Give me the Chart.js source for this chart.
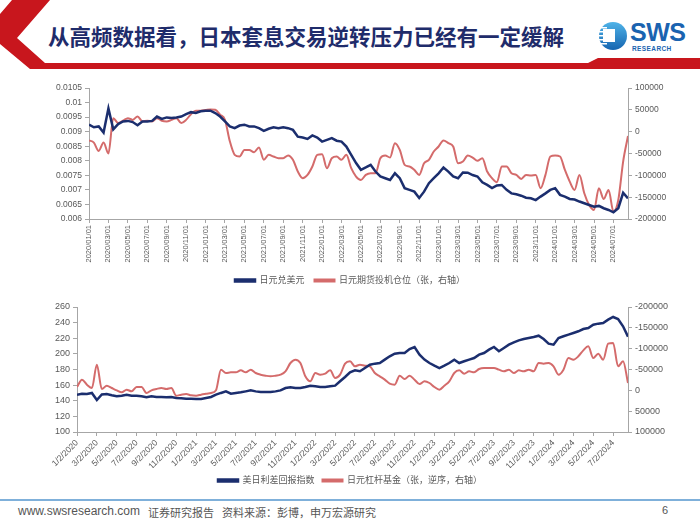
<!DOCTYPE html>
<html>
<head>
<meta charset="utf-8">
<script src="https://cdn.jsdelivr.net/npm/chart.js@4.4.1/dist/chart.umd.min.js"></script>
<style>
  body { margin: 0; width: 700px; height: 525px; background: #fff; position: relative; overflow: hidden; font-family: "Noto Sans CJK SC", sans-serif; }
  #head { position: absolute; left: 0; top: 0; }
  #title { position: absolute; left: 48px; top: 22px; font-size: 21.5px; font-weight: bold; color: #1f2c6b; letter-spacing: 0px; white-space: nowrap; line-height: 28px; }
  .logo-sws { position: absolute; left: 630px; top: 18px; font-family: "Liberation Sans", Arial, sans-serif; font-weight: bold; font-size: 25px; color: #1a63b0; letter-spacing: -0.5px; }
  .logo-res { position: absolute; left: 632px; top: 45px; font-family: "Liberation Sans", Arial, sans-serif; font-weight: bold; font-size: 6.5px; color: #1a63b0; letter-spacing: 0.4px; }
  #c1 { position: absolute; left: 0; top: 75px; }
  #c2 { position: absolute; left: 0; top: 295px; }
  #foot-line { position: absolute; left: 0; top: 499px; width: 700px; height: 2px; background: #7fb0da; }
  .foot { position: absolute; top: 504px; font-size: 11px; color: #555; font-family: "Liberation Sans", "Noto Sans CJK SC", sans-serif; white-space: nowrap; }
</style>
</head>
<body>
<svg id="head" width="700" height="72">
  <polygon points="12,0 50,0 17,38 45,63 700,63 700,69 30,69 0,44 0,14" fill="#c8161d"/>
  <polygon points="588,63 598,58 700,58 700,64" fill="#c8161d"/>
  <defs>
    <linearGradient id="lg" x1="0" y1="0" x2="0" y2="1">
      <stop offset="0" stop-color="#4fb3e8"/>
      <stop offset="1" stop-color="#1565b0"/>
    </linearGradient>
  </defs>
  <circle cx="613" cy="36" r="14" fill="url(#lg)"/>
  <rect x="603" y="29" width="12" height="13" fill="#fff"/>
  <rect x="599" y="27" width="8" height="1.5" fill="#fff"/>
  <rect x="599" y="31" width="8" height="1.5" fill="#fff"/>
  <rect x="599" y="35" width="8" height="1.5" fill="#fff"/>
  <rect x="599" y="39" width="8" height="1.5" fill="#fff"/>
  <rect x="599" y="43" width="8" height="1.5" fill="#fff"/>
</svg>
<div id="title">从高频数据看，日本套息交易逆转压力已经有一定缓解</div>
<div class="logo-sws">SWS</div>
<div class="logo-res">RESEARCH</div>

<canvas id="c1" width="700" height="220"></canvas>
<canvas id="c2" width="700" height="200"></canvas>

<div id="foot-line"></div>
<div class="foot" style="left:18px;font-size:12px;">www.swsresearch.com</div>
<div class="foot" style="left:148px;">证券研究报告</div>
<div class="foot" style="left:222px;">资料来源：彭博，申万宏源研究</div>
<div class="foot" style="left:662px;">6</div>

<script>
// half-month samples starting Jan 2020
const step = 0.5;

const topTicks = ['2020/01/01','2020/03/01','2020/05/01','2020/07/01','2020/09/01','2020/11/01',
  '2021/01/01','2021/03/01','2021/05/01','2021/07/01','2021/09/01','2021/11/01',
  '2022/01/01','2022/03/01','2022/05/01','2022/07/01','2022/09/01','2022/11/01',
  '2023/01/01','2023/03/01','2023/05/01','2023/07/01','2023/09/01','2023/11/01',
  '2024/01/01','2024/03/01','2024/05/01','2024/07/01'];

const bottomTicks = ['1/2/2020','3/2/2020','5/2/2020','7/2/2020','9/2/2020','11/2/2020',
  '1/2/2021','3/2/2021','5/2/2021','7/2/2021','9/2/2021','11/2/2021',
  '1/2/2022','3/2/2022','5/2/2022','7/2/2022','9/2/2022','11/2/2022',
  '1/2/2023','3/2/2023','5/2/2023','7/2/2023','9/2/2023','11/2/2023',
  '1/2/2024','3/2/2024','5/2/2024','7/2/2024'];

// 日元兑美元
const jpyUsd = [0.00924,0.00915,0.00918,0.00897,0.0098,0.00908,0.00926,0.00935,0.00937,0.00933,
  0.00922,0.00935,0.00935,0.00937,0.00952,0.00944,0.00949,0.00947,0.00949,0.00952,
  0.0096,0.00967,0.00964,0.0097,0.00972,0.00972,0.00964,0.00952,0.00935,0.00918,
  0.00912,0.00921,0.00924,0.00918,0.00918,0.00912,0.00903,0.0091,0.00915,0.00912,
  0.00915,0.00912,0.00906,0.00883,0.0088,0.00875,0.00887,0.0088,0.00866,0.00872,
  0.00878,0.00869,0.00866,0.00849,0.0082,0.00792,0.00769,0.00777,0.00786,0.00763,
  0.00746,0.0074,0.00734,0.00757,0.0074,0.00706,0.007,0.00694,0.00672,0.00694,
  0.00723,0.0074,0.00757,0.00777,0.00763,0.00746,0.0074,0.0076,0.00759,0.00751,
  0.00746,0.00726,0.00717,0.00706,0.00715,0.00717,0.007,0.00688,0.00685,0.0068,
  0.00673,0.00671,0.00665,0.00677,0.00688,0.007,0.00706,0.00683,0.00677,0.00669,
  0.00667,0.0066,0.00654,0.00648,0.00642,0.00645,0.00637,0.00631,0.00623,0.00637,
  0.0069,0.00671];

// 日元期货投机仓位（张，右轴）
const jpySpec = [-20000,-25000,-44000,-25000,-50000,31000,19600,25000,31000,27000,
  35000,23500,25000,23500,31000,25000,23500,27000,31000,19600,
  27000,40000,48000,48000,49500,51000,50000,39000,27000,-22000,
  -53000,-57000,-42000,-42000,-47000,-36000,-64500,-53000,-57000,-60700,
  -60700,-54600,-64500,-91300,-106600,-99000,-79800,-53000,-51500,-83700,
  -60700,-57000,-64500,-53000,-83700,-102800,-110500,-99000,-95000,-95200,
  -60700,-54600,-59200,-26300,-41600,-76000,-79800,-87500,-99000,-72200,
  -64500,-45400,-33900,-20000,-26300,-33900,-72200,-68400,-54600,-59200,
  -66800,-60700,-91300,-106600,-115800,-79800,-79800,-95200,-99000,-108200,
  -99000,-100500,-99000,-129600,-99000,-56900,-54600,-56900,-87500,-114300,
  -133400,-99000,-141100,-167900,-179300,-129600,-154100,-133400,-183200,-156400,
  -68400,-10000];

// 美日利差回报指数
const carryIdx = [147.8,149,148.6,150,141,148,148.6,147,145.7,146.5,
  147.8,146.5,146.5,145.7,144.4,145.7,144.8,144.8,144.4,144.8,
  143.5,143.1,142.7,142.7,142.3,142.3,143.5,144.8,147.8,150,
  152,149,150,150.8,152,153.3,152,151.2,151.2,151.2,
  152,153.3,156.3,157.2,156.3,156.3,157.6,159.3,158.5,157.6,
  157.6,158.5,159.3,164.9,170.4,176.4,178.9,177.7,181.9,186.2,
  187.5,188.3,192.6,196.9,200.3,201.1,201.1,206.2,208.8,199,
  192.6,188.3,184.9,181.9,184.9,188.3,192.6,188.3,190.5,192.6,
  194.7,199,201.1,205.4,208.8,203.3,207.5,211.8,214.8,217.3,
  219,220.3,221.6,223.3,219,213.1,211.8,220.3,222.5,224.6,
  226.7,228.9,231.8,233.1,237.4,238.7,239.5,243.8,247.2,244.6,
  235.3,222];

// 日元杠杆基金（张，逆序，右轴）
const jpyLev = [-8000,-25600,-13600,-5600,-61600,-3200,-11200,-5600,0,4800,
  -1600,2400,-8000,-8000,6400,0,-3200,-5600,-3200,-5600,
  12800,10400,8800,12000,12800,10400,8000,6400,0,-49600,
  -41600,-43200,-43200,-48000,-43200,-49600,-41600,-37600,-35200,-33600,
  -35200,-37600,-45600,-65600,-73600,-65600,-33600,-21600,-41600,-37600,
  -40000,-48000,-29600,-37600,-64000,-69600,-57600,-61600,-59200,-57600,
  -41600,-33600,-25600,-16000,-13600,-35200,-27200,-35200,-25600,-15200,
  -21600,-17600,-8000,-1600,-11200,-21600,-41600,-48000,-40000,-45600,
  -43200,-51200,-53600,-53600,-53600,-49600,-45600,-49600,-41600,-48000,
  -45600,-49600,-45600,-65600,-64000,-65600,-57600,-37600,-49600,-77600,
  -73600,-81600,-96000,-105600,-77600,-88000,-73600,-112000,-113600,-57600,
  -69600,-17600];

const navy = '#1b2e6e';
const rose = '#d46b6b';
const axisGrey = '#a6a6a6';
const tickGrey = '#595959';

Chart.defaults.font.family = "'Liberation Sans', 'Noto Sans CJK SC', sans-serif";
Chart.defaults.color = tickGrey;
Chart.defaults.animation = false;

function toPoints(vals) {
  return vals.map((v, i) => ({ x: i * step, y: v }));
}

function axisBase() {
  return {
    grid: { drawOnChartArea: false, drawTicks: true, tickLength: 4, color: axisGrey },
    border: { display: true, color: axisGrey }
  };
}

function makeChart(id, cfg) {
  const ctx = document.getElementById(id).getContext('2d');
  return new Chart(ctx, {
    type: 'line',
    data: {
      datasets: [
        { label: cfg.names[0], data: toPoints(cfg.left), yAxisID: 'yL', borderColor: navy, backgroundColor: navy,
          borderWidth: 2.5, pointRadius: 0, tension: 0 },
        { label: cfg.names[1], data: toPoints(cfg.right), yAxisID: 'yR', borderColor: rose, backgroundColor: rose,
          borderWidth: 2, pointRadius: 0, cubicInterpolationMode: 'monotone' }
      ]
    },
    options: {
      responsive: false,
      layout: { padding: { left: 0, right: 0, top: cfg.padTop, bottom: 0 } },
      plugins: {
        legend: {
          position: 'bottom',
          labels: { boxWidth: 20, boxHeight: 2, padding: cfg.legPad, font: { size: 9 }, color: tickGrey }
        },
        tooltip: { enabled: false }
      },
      scales: {
        x: Object.assign(axisBase(), {
          type: 'linear', min: 0, max: 55.5,
          afterBuildTicks: (axis) => { axis.ticks = axis.ticks.filter(t => t.value % 2 === 0); },
          afterFit: (axis) => { axis.height = cfg.xHeight; },
          ticks: { stepSize: 2, autoSkip: false, maxRotation: cfg.rot, minRotation: cfg.rot,
            font: { size: cfg.xFont }, padding: 2,
            callback: (v) => cfg.ticks[v / 2] }
        }),
        yL: Object.assign(axisBase(), {
          position: 'left', min: cfg.lMin, max: cfg.lMax,
          afterFit: (axis) => { axis.width = cfg.leftW; },
          ticks: { stepSize: cfg.lStep, font: { size: cfg.yFont }, padding: 3, callback: cfg.lFmt }
        }),
        yR: Object.assign(axisBase(), {
          position: 'right', min: cfg.rMin, max: cfg.rMax, reverse: cfg.rRev,
          afterFit: (axis) => { axis.width = 72; },
          ticks: { stepSize: 50000, font: { size: cfg.yFont }, padding: 3, callback: (v) => String(v) }
        })
      }
    }
  });
}

makeChart('c1', {
  names: ['日元兑美元', '日元期货投机仓位（张，右轴）'],
  left: jpyUsd, right: jpySpec, ticks: topTicks,
  padTop: 13, xHeight: 47, legPad: 10, rot: 90, xFont: 7.5, yFont: 8.5, leftW: 89,
  lMin: 0.006, lMax: 0.0105, lStep: 0.0005, lFmt: (v) => String(parseFloat(v.toFixed(4))),
  rMin: -200000, rMax: 100000, rRev: false
});

makeChart('c2', {
  names: ['美日利差回报指数', '日元杠杆基金（张，逆序，右轴）'],
  left: carryIdx, right: jpyLev, ticks: bottomTicks,
  padTop: 12, xHeight: 36, legPad: 8, rot: 45, xFont: 8.5, yFont: 9, leftW: 77,
  lMin: 100, lMax: 260, lStep: 20, lFmt: (v) => String(v),
  rMin: -200000, rMax: 100000, rRev: true
});
</script>
</body>
</html>
